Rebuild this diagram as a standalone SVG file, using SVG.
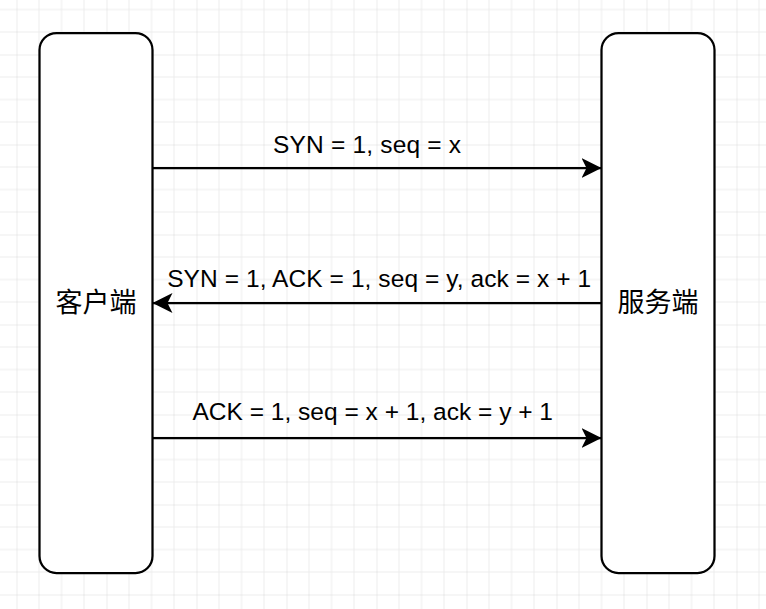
<svg xmlns="http://www.w3.org/2000/svg" width="766" height="609" viewBox="0 0 766 609">
  <defs>
    <pattern id="grid" x="16.5" y="54.5" width="90" height="90" patternUnits="userSpaceOnUse">
      <path d="M22.5 0V90M45 0V90M67.5 0V90M0 22.5H90M0 45H90M0 67.5H90" stroke="#ececec" stroke-width="1" fill="none"/>
      <path d="M0 0V90M0 0H90" stroke="#d9d9d9" stroke-width="1" fill="none"/>
    </pattern>
    <marker id="arrow" viewBox="0 0 20 20" refX="20" refY="10" markerWidth="20" markerHeight="20" markerUnits="userSpaceOnUse" orient="auto">
      <path d="M20 10L0 0L5 10L0 20Z" fill="#000"/>
    </marker>
    <style>
      .box { fill: #fff; stroke: #000; stroke-width: 2.25; }
      .edge { fill: none; stroke: #000; stroke-width: 2.25; marker-end: url(#arrow); }
      .lbl { font-family: "Liberation Sans", Arial, sans-serif; font-size: 24.5px; fill: #000; }
      .cjk { font-family: "Liberation Sans", "Noto Sans CJK SC", sans-serif; font-size: 27px; fill: #000; text-anchor: middle; }
    </style>
  </defs>
  <rect width="766" height="609" fill="#fff"/>
  <rect width="766" height="609" fill="url(#grid)"/>

  <g id="client">
    <rect class="box" x="39.5" y="33" width="113" height="540" rx="17" ry="17"/>
    <text class="cjk" x="96" y="312">客户端</text>
  </g>
  <g id="server">
    <rect class="box" x="601.5" y="33" width="113" height="540" rx="17" ry="17"/>
    <text class="cjk" x="658" y="312">服务端</text>
  </g>

  <g id="connectors">
    <path class="edge" d="M152.5 168H601.5"/>
    <text class="lbl" x="273" y="152.5" textLength="188" lengthAdjust="spacing">SYN = 1, seq = x</text>
    <path class="edge" d="M601.5 303H152.5"/>
    <text class="lbl" x="167.2" y="287" textLength="424" lengthAdjust="spacing">SYN = 1, ACK = 1, seq = y, ack = x + 1</text>
    <path class="edge" d="M152.5 438H601.5"/>
    <text class="lbl" x="192.5" y="419.5" textLength="360.5" lengthAdjust="spacing">ACK = 1, seq = x + 1, ack = y + 1</text>
  </g>
</svg>
